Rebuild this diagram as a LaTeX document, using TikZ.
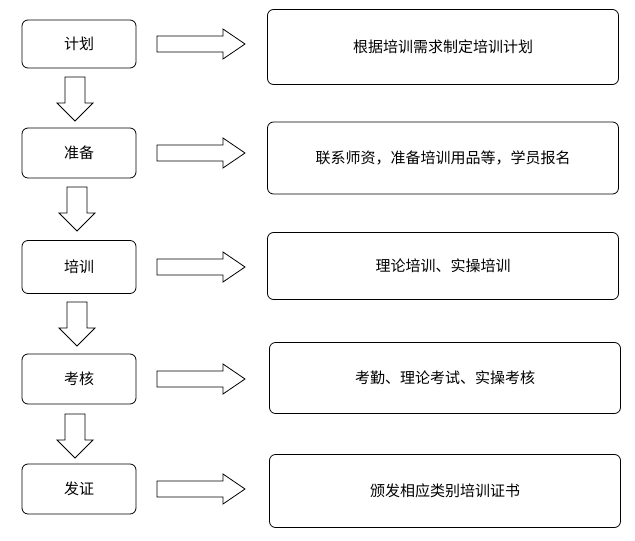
\documentclass[tikz,border=0pt]{standalone}
\usepackage{fontspec}
\newfontfamily\cjk{Noto Sans CJK SC}
\begin{document}
\begin{tikzpicture}[x=1pt,y=-1pt,
  box/.style={draw,thick,rounded corners=6pt,font=\cjk\fontsize{15}{17}\selectfont},
  rarrow/.pic={\draw[thick,fill=white] (0,-8)--(66,-8)--(66,-15)--(88,0)--(66,15)--(66,8)--(0,8)--cycle;},
  darrow/.pic={\draw[thick,fill=white] (-10,0)--(-10,26)--(-18,26)--(0,44)--(18,26)--(10,26)--(10,0)--cycle;}]
\useasboundingbox (0,0) rectangle (635,541);
\foreach \n/\t/\y/\h/\rx/\ry/\rh/\rt in {
  a/计划/44/48/443/47/75/根据培训需求制定培训计划,
  b/准备/153/50/443/158/72/联系师资，准备培训用品等，学员报名,
  c/培训/267/53/443/266/67/理论培训、实操培训,
  d/考核/379/50/445/378/71/考勤、理论考试、实操考核,
  e/发证/489/50/445/491/73/颁发相应类别培训证书}{
  \node[box,minimum width=114pt,minimum height=\h pt] (\n) at (79,\y) {\t};
  \node[box,minimum width=351pt,minimum height=\rh pt] (\n r) at (\rx,\ry) {\rt};
  \pic at (157,\y) {rarrow};
}
\pic at (75,77) {darrow};
\pic at (77,187) {darrow};
\pic at (77,302) {darrow};
\pic at (75,414) {darrow};
\end{tikzpicture}
\end{document}
